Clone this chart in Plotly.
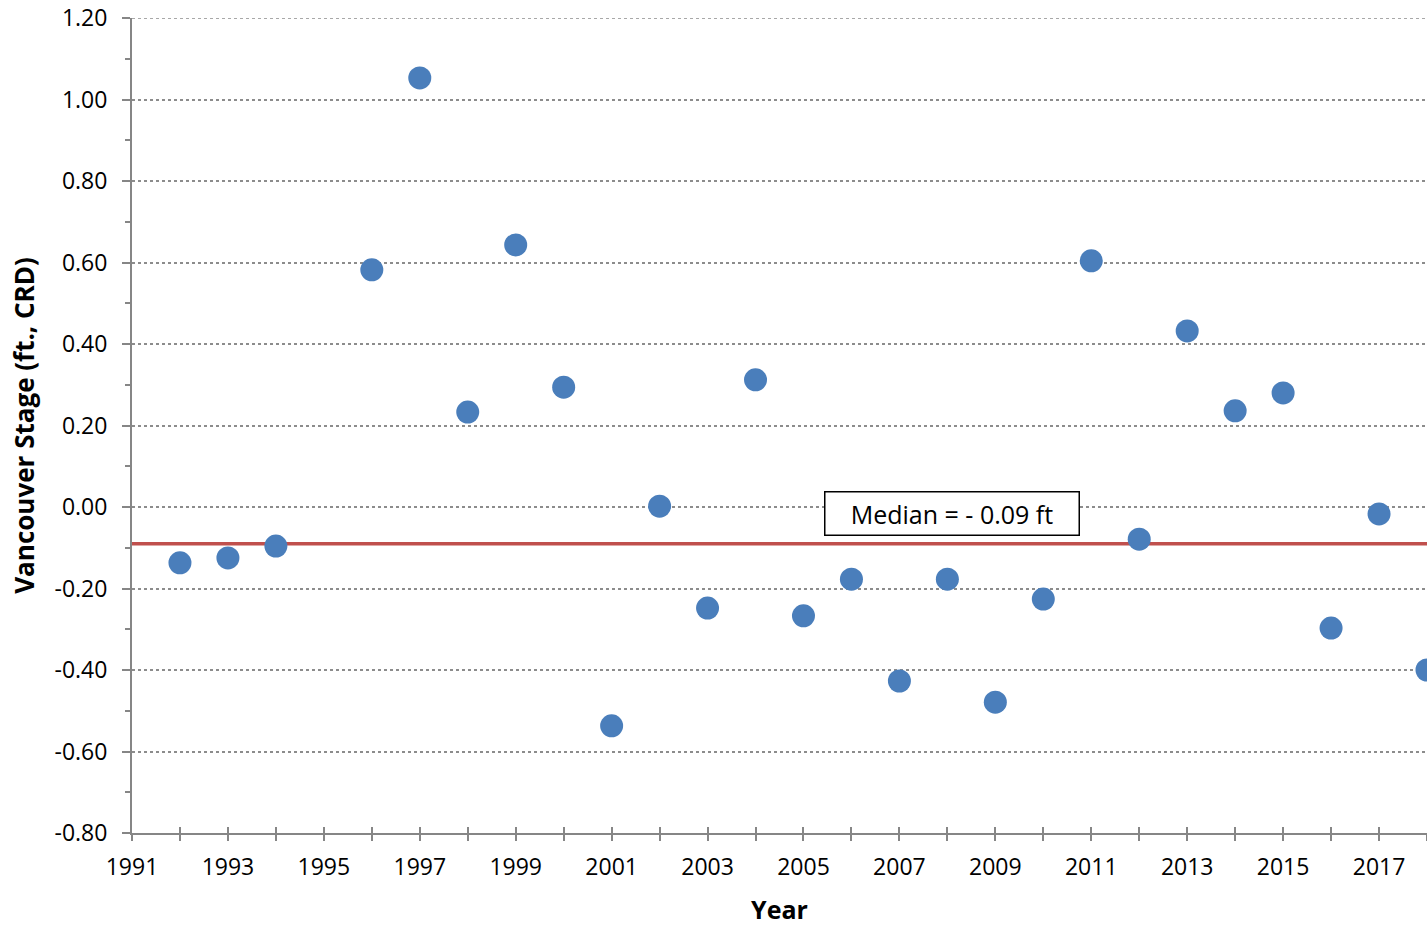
import plotly.graph_objects as go

years = [1992, 1993, 1994, 1996, 1997, 1998, 1999, 2000, 2001, 2002, 2003, 2004,
         2005, 2006, 2007, 2008, 2009, 2010, 2011, 2012, 2013, 2014, 2015, 2016,
         2017, 2018]
stage = [-0.137, -0.125, -0.096, 0.582, 1.053, 0.233, 0.643, 0.294, -0.537, 0.002,
         -0.248, 0.312, -0.267, -0.177, -0.427, -0.177, -0.479, -0.226, 0.604,
         -0.079, 0.432, 0.236, 0.280, -0.297, -0.017, -0.400]
median = -0.09
median_label = "Median = - 0.09 ft"
y_ticks = [1.2, 1.0, 0.8, 0.6, 0.4, 0.2, 0.0, -0.2, -0.4, -0.6, -0.8]
x_ticks = list(range(1991, 2019, 2))

FONT = "Open Sans"
AXIS_GRAY = "#868686"
GRID_GRAY = "#8C8C8C"

fig = go.Figure()
fig.add_trace(go.Scatter(
    x=[1991, 2018], y=[median, median], mode="lines",
    line=dict(color="#C0504D", width=3.5), hoverinfo="skip", showlegend=False))
fig.add_trace(go.Scatter(
    x=years, y=stage, mode="markers",
    marker=dict(color="#4A7EBB", size=23, line=dict(width=0)),
    showlegend=False))
# invisible trace for overlay axis (crossing ticks)
fig.add_trace(go.Scatter(x=[1991, 2018], y=[-0.8, -0.8], xaxis="x2", mode="markers",
                         marker=dict(opacity=0), hoverinfo="skip", showlegend=False))

fig.update_layout(
    width=1427, height=926,
    margin=dict(l=132, r=0, t=18, b=93),
    paper_bgcolor="white", plot_bgcolor="white",
    font=dict(family=FONT, size=23, color="black"),
    xaxis=dict(
        range=[1991, 2018], tickmode="array", tickvals=x_ticks,
        ticktext=[str(v) for v in x_ticks],
        ticks="outside", ticklen=6, tickwidth=2, tickcolor=AXIS_GRAY,
        ticklabelstandoff=6,
        minor=dict(dtick=1, ticks="outside", ticklen=6, tickwidth=2, tickcolor=AXIS_GRAY, showgrid=False),
        showline=True, linecolor=AXIS_GRAY, linewidth=2, showgrid=False, zeroline=False,
        title=dict(text="<b>Year</b>", font=dict(size=25), standoff=27),
        tickfont=dict(size=23),
    ),
    xaxis2=dict(
        range=[1991, 2018], overlaying="x", anchor="y", side="bottom",
        tickmode="linear", tick0=1991, dtick=1, ticks="inside", ticklen=6, tickwidth=2,
        tickcolor=AXIS_GRAY, showticklabels=False, showgrid=False, zeroline=False,
        showline=False,
    ),
    yaxis=dict(
        range=[-0.8, 1.2], tickmode="array", tickvals=y_ticks,
        ticktext=[f"{v:.2f}" for v in y_ticks],
        ticks="outside", ticklen=8, tickwidth=2, tickcolor=AXIS_GRAY,
        ticklabelstandoff=10,
        minor=dict(dtick=0.1, tick0=-0.8, ticks="outside", ticklen=5, tickwidth=2,
                   tickcolor=AXIS_GRAY, showgrid=False),
        showline=True, linecolor=AXIS_GRAY, linewidth=2,
        showgrid=True, gridcolor=GRID_GRAY, griddash="dot", gridwidth=1.5,
        zeroline=False,
        title=dict(text="<b>Vancouver Stage (ft., CRD)</b>", font=dict(size=26), standoff=12),
        tickfont=dict(size=23),
    ),
    shapes=[dict(
        type="line", xref="paper", yref="y", x0=0, x1=1,
        y0=max(y_ticks), y1=max(y_ticks),
        line=dict(color=GRID_GRAY, width=1.5, dash="dot"), layer="below",
    )],
    annotations=[dict(
        x=2008.1, y=-0.016, xref="x", yref="y", text=median_label, showarrow=False,
        font=dict(family=FONT, size=25, color="black"),
        bordercolor="black", borderwidth=1.5, borderpad=5, bgcolor="white",
        width=243, height=32,
    )],
)

fig.write_html(
    "out.html",
    config={"displayModeBar": False},
    post_script="document.body.style.margin='0';document.body.style.overflow='hidden';",
)
